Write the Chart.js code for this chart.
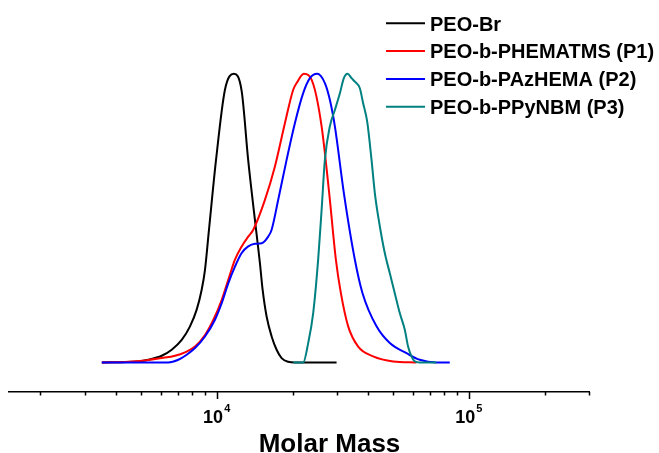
<!DOCTYPE html>
<html>
<head>
<meta charset="utf-8">
<script src="https://cdn.jsdelivr.net/npm/chart.js@4/dist/chart.umd.min.js"></script>
<style>
  html, body { margin: 0; padding: 0; background: #ffffff; }
  #wrap { width: 659px; height: 453px; position: relative; }
</style>
</head>
<body>
<div id="wrap"><canvas id="gpc"></canvas></div>
<script>
// GPC traces: molar mass (g/mol) vs normalised detector signal
const seriesNames = ['PEO-Br', 'PEO-b-PHEMATMS (P1)', 'PEO-b-PAzHEMA (P2)', 'PEO-b-PPyNBM (P3)'];
const seriesColors = ['#000000', '#ff0000', '#0000ff', '#008080'];

const peoBrMass   = [3510, 4890, 5357, 6053, 6632, 7266, 7838, 8331, 8720, 8987, 9322, 9936, 10786, 11710, 12565, 13340, 14486, 14845, 15215, 15780, 16520, 17290, 18100, 19220, 20430, 29900];
const peoBrSignal = [0, 0.0035, 0.0092, 0.023, 0.044, 0.078, 0.125, 0.183, 0.252, 0.321, 0.46, 0.70, 0.945, 1, 0.94, 0.70, 0.425, 0.344, 0.252, 0.159, 0.09, 0.044, 0.015, 0.0023, 0, 0];

const p1Mass   = [3500, 4462, 5196, 6053, 6835, 7487, 8204, 8987, 9694, 10467, 11117, 11817, 12565, 13340, 13970, 15540, 17025, 18650, 20120, 20760, 22182, 24150, 26080, 27950, 29710, 31100, 33240, 36420, 41760, 50120, 62050];
const p1Signal = [0, 0.0023, 0.007, 0.015, 0.023, 0.035, 0.055, 0.095, 0.147, 0.216, 0.286, 0.356, 0.402, 0.436, 0.46, 0.5635, 0.679, 0.829, 0.945, 0.968, 1, 0.965, 0.818, 0.587, 0.356, 0.24, 0.125, 0.055, 0.021, 0.0035, 0];

const p2Mass   = [3500, 6431, 7044, 7605, 8204, 8987, 9846, 10467, 11117, 11817, 12565, 13340, 14184, 15080, 16010, 16520, 17545, 18940, 20430, 22040, 23430, 25040, 26870, 28120, 29440, 31960, 35340, 37900, 43070, 48630, 56630, 63940, 74470, 84090];
const p2Signal = [0, 0, 0.0092, 0.0266, 0.0497, 0.09, 0.148, 0.205, 0.274, 0.332, 0.379, 0.402, 0.411, 0.413, 0.436, 0.46, 0.5635, 0.702, 0.829, 0.933, 0.985, 1, 0.968, 0.91, 0.818, 0.587, 0.356, 0.24, 0.125, 0.067, 0.032, 0.009, 0, 0];

const p3Mass   = [20120, 22040, 23070, 24150, 25270, 26080, 26870, 28120, 29440, 30820, 31960, 33060, 34290, 35340, 36980, 38110, 39540, 41150, 42410, 44400, 46450, 48630, 50890, 53270, 55760, 57460, 59270, 61090, 63940, 74470];
const p3Signal = [0, 0, 0.067, 0.171, 0.356, 0.529, 0.702, 0.818, 0.875, 0.933, 0.985, 1, 0.985, 0.973, 0.95, 0.898, 0.835, 0.702, 0.587, 0.471, 0.379, 0.309, 0.24, 0.171, 0.113, 0.055, 0.021, 0.0035, 0, 0];

// axis: log scale, decade labels plus minor ticks
const xMin = 1500, xMax = 300000;
const majorTicks = [10000, 100000];
const majorExponents = ['4', '5'];
const minorTicks = [2000, 3000, 4000, 5000, 6000, 7000, 8000, 9000,
                    20000, 30000, 40000, 50000, 60000, 70000, 80000, 90000,
                    200000, 300000];
const xTitle = 'Molar Mass';

const FONT = '"Liberation Sans", Arial, Helvetica, sans-serif';

function pairUp(xs, ys) { return xs.map((x, i) => ({ x: x, y: ys[i] })); }

const allMass = [peoBrMass, p1Mass, p2Mass, p3Mass];
const allSignal = [peoBrSignal, p1Signal, p2Signal, p3Signal];

const datasets = seriesNames.map((name, i) => ({
  label: name,
  data: pairUp(allMass[i], allSignal[i]),
  borderColor: seriesColors[i],
  backgroundColor: seriesColors[i],
  borderWidth: 2,
  pointRadius: 0,
  fill: false,
  cubicInterpolationMode: 'monotone',
  order: seriesNames.length - i
}));

// tick marks, superscript decade labels, axis title and legend
const decor = {
  id: 'decor',
  afterDraw(chart) {
    const ctx = chart.ctx;
    const xs = chart.scales.x;
    const y0 = chart.chartArea.bottom;
    ctx.save();
    ctx.strokeStyle = '#000';
    ctx.lineWidth = 1.5;
    ctx.beginPath();
    minorTicks.forEach(v => {
      const px = Math.round(xs.getPixelForValue(v)) + 0.5;
      ctx.moveTo(px, y0);
      ctx.lineTo(px, y0 + 3.5);
    });
    majorTicks.forEach(v => {
      const px = Math.round(xs.getPixelForValue(v)) + 0.5;
      ctx.moveTo(px, y0);
      ctx.lineTo(px, y0 + 7);
    });
    ctx.stroke();

    ctx.fillStyle = '#000';
    ctx.textBaseline = 'alphabetic';
    ctx.textAlign = 'left';
    majorTicks.forEach((v, i) => {
      const px = xs.getPixelForValue(v);
      ctx.font = 'bold 18px ' + FONT;
      const wBase = ctx.measureText('10').width;
      ctx.font = 'bold 11px ' + FONT;
      const wExp = ctx.measureText(majorExponents[i]).width;
      const left = px - (wBase + wExp + 1) / 2;
      ctx.font = 'bold 18px ' + FONT;
      ctx.fillText('10', left, y0 + 31);
      ctx.font = 'bold 11px ' + FONT;
      ctx.fillText(majorExponents[i], left + wBase + 1, y0 + 19.5);
    });

    ctx.font = 'bold 26px ' + FONT;
    ctx.textAlign = 'center';
    ctx.fillText(xTitle, chart.width / 2, 451.5);

    // legend
    const lx0 = 386, lx1 = 425, tx = 430, ly0 = 23.3, step = 27.8;
    ctx.textAlign = 'left';
    ctx.font = 'bold 20px ' + FONT;
    chart.data.datasets.forEach((ds, i) => {
      const ly = ly0 + i * step;
      ctx.strokeStyle = ds.borderColor;
      ctx.lineWidth = 2;
      ctx.beginPath();
      ctx.moveTo(lx0, ly);
      ctx.lineTo(lx1, ly);
      ctx.stroke();
      ctx.fillText(ds.label, tx, ly + 7.2);
    });
    ctx.restore();
  }
};

new Chart(document.getElementById('gpc'), {
  type: 'line',
  data: { datasets: datasets },
  options: {
    responsive: true,
    maintainAspectRatio: false,
    animation: false,
    layout: { padding: { left: 9, right: 70, top: 45, bottom: 61 } },
    plugins: { legend: { display: false }, tooltip: { enabled: false } },
    scales: {
      x: {
        type: 'logarithmic',
        min: xMin,
        max: xMax,
        ticks: { display: false },
        grid: { display: false, drawTicks: false },
        border: { display: true, color: '#000', width: 1.5 }
      },
      y: {
        display: false,
        min: -0.1025,
        max: 1.1
      }
    }
  },
  plugins: [decor]
});
</script>
</body>
</html>
